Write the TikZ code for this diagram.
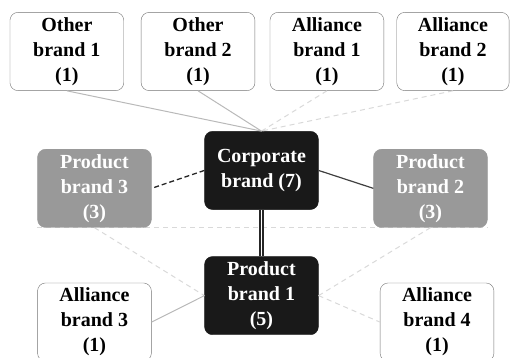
\documentclass[tikz,border=0pt]{standalone}
\usepackage{fontspec}
\setmainfont{Liberation Serif}
\usetikzlibrary{positioning, backgrounds}

\begin{document}
\begin{tikzpicture}[
    brand/.style={rectangle, rounded corners=8pt, draw=gray!110, thin, fill=white, minimum width=4cm, minimum height=2.75cm, align=center, inner sep=2pt, font=\bfseries\fontsize{20}{25}\selectfont},
    corebrand/.style={brand, draw=black!90, fill=black!90, text=white},
    prodbrand/.style={brand, draw=gray!80, fill=gray!80, text=white},
    link/.style={gray!55, line width=1pt},
    weaklink/.style={gray!30, line width=1pt, dash pattern=on 5pt off 4pt},
]

\useasboundingbox (-9.19, -6.59) rectangle (8.77, 5.99);

\node[corebrand] (corp) at (0, 0) {Corporate\\brand (7)};
\node[corebrand] (pb1) at (0, -4.4) {Product\\brand 1\\(5)};
\node[prodbrand] (pb3) at (-5.87, -0.63) {Product\\brand 3\\(3)};
\node[prodbrand] (pb2) at (5.94, -0.63) {Product\\brand 2\\(3)};

\node[brand] (ob1) at (-6.84, 4.18) {Other\\brand 1\\(1)};
\node[brand] (ob2) at (-2.23, 4.18) {Other\\brand 2\\(1)};
\node[brand] (ab1) at (2.30, 4.18) {Alliance\\brand 1\\(1)};
\node[brand, minimum width=3.95cm] (ab2) at (6.73, 4.18) {Alliance\\brand 2\\(1)};

\node[brand] (ab3) at (-5.87, -5.33) {Alliance\\brand 3\\(1)};
\node[brand] (ab4) at (6.17, -5.33) {Alliance\\brand 4\\(1)};

\begin{scope}[on background layer]
    \draw[weaklink] (pb3.south west) -- (pb2.south east);
\end{scope}

\draw[link] (ob1.south) -- (corp.north);
\draw[link] (ob2.south) -- (corp.north);
\draw[weaklink] (ab1.south) -- (corp.north);
\draw[weaklink] (ab2.south) -- (corp.north);
\draw[black!85, line width=1.3pt, dash pattern=on 5pt off 3pt] (corp.west) -- (pb3.east);
\draw[black!75, line width=1.2pt] (corp.east) -- (pb2.west);
\draw[black!85, line width=2pt, double=white, double distance=1.2pt] (corp.south) -- (pb1.north);
\draw[weaklink] (pb3.south) -- (pb1.west);
\draw[weaklink] (pb2.south) -- (pb1.east);
\draw[link] (pb1.west) -- (ab3.east);
\draw[weaklink] (pb1.east) -- (ab4.west);

\end{tikzpicture}
\end{document}
